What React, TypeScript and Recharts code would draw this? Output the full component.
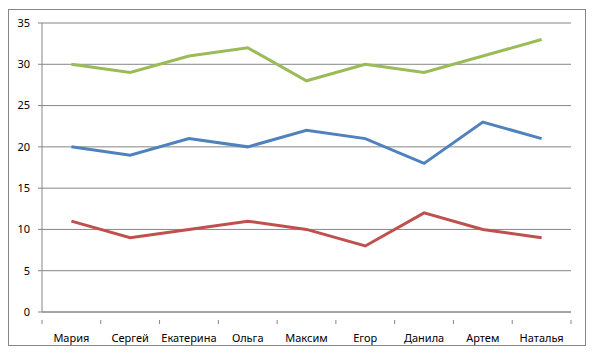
import React from "react";
import { LineChart, Line, XAxis, YAxis, CartesianGrid } from "recharts";

const categories = ["Мария", "Сергей", "Екатерина", "Ольга", "Максим", "Егор", "Данила", "Артем", "Наталья"];
const blueValues = [20, 19, 21, 20, 22, 21, 18, 23, 21];
const redValues = [11, 9, 10, 11, 10, 8, 12, 10, 9];
const greenValues = [30, 29, 31, 32, 28, 30, 29, 31, 33];
const yTicks = [0, 5, 10, 15, 20, 25, 30, 35];

const data = categories.map((name, i) => ({
  name,
  blue: blueValues[i],
  red: redValues[i],
  green: greenValues[i],
}));

const AXIS = "#868686";
const FONT = "'Noto Sans', sans-serif";

const XTick = (props: any) => {
  const { x, y, payload, index, width } = props;
  const n = categories.length;
  const band = (width || 529) / n;
  const left = x - band / 2;
  const right = x + band / 2;
  return (
    <g>
      <line x1={left} y1={y} x2={left} y2={y + 4} stroke={AXIS} strokeWidth={1} />
      {index === n - 1 && (
        <line x1={right} y1={y} x2={right} y2={y + 4} stroke={AXIS} strokeWidth={1} />
      )}
      <text x={x} y={y + 22} textAnchor="middle" fontSize={11} fontFamily={FONT} fill="#000">
        {payload.value}
      </text>
    </g>
  );
};

export default function App() {
  return (
    <div
      style={{
        marginTop: 1,
        width: 576,
        height: 335,
        border: `1px solid ${AXIS}`,
        background: "#fff",
      }}
    >
      <LineChart
        width={576}
        height={335}
        data={data}
        margin={{ top: 13, right: 14, left: 0, bottom: 0 }}
      >
        <CartesianGrid vertical={false} stroke={AXIS} strokeDasharray="" />
        <XAxis
          dataKey="name"
          height={33}
          stroke={AXIS}
          tickLine={false}
          tick={<XTick />}
          interval={0}
          scale="band"
        />
        <YAxis
          width={33}
          domain={[0, 35]}
          ticks={yTicks}
          stroke={AXIS}
          tickSize={4}
          tickMargin={8}
          tick={{ fill: "#000", fontSize: 11, fontFamily: FONT }}
          interval={0}
        />
        <Line dataKey="blue" stroke="#4F81BD" strokeWidth={3} dot={false} isAnimationActive={false} />
        <Line dataKey="red" stroke="#C0504D" strokeWidth={3} dot={false} isAnimationActive={false} />
        <Line dataKey="green" stroke="#9BBB59" strokeWidth={3} dot={false} isAnimationActive={false} />
      </LineChart>
    </div>
  );
}
